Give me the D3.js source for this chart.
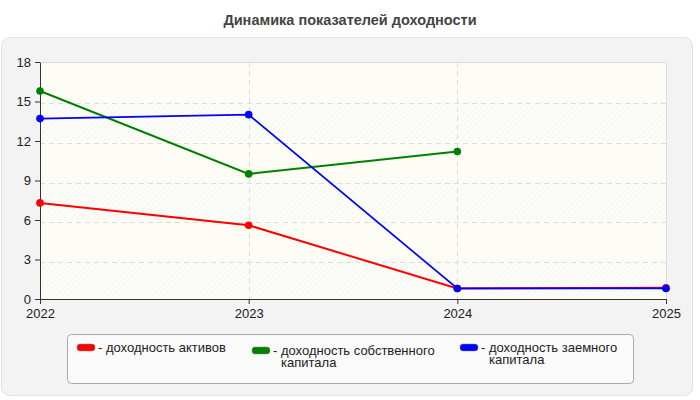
<!DOCTYPE html>
<html>
<head>
<meta charset="utf-8">
<script src="https://cdn.jsdelivr.net/npm/d3@7"></script>
<style>
  body { margin: 0; background: #fff; }
  text { font-family: Arial, "Liberation Sans", sans-serif; }
</style>
</head>
<body>
<div id="chart"></div>
<script>
// Chart data
const years = [2022, 2023, 2024, 2025];
const yTicks = [0, 3, 6, 9, 12, 15, 18];
const seriesColors = ["#ff0000", "#008000", "#0000ff"];
const assetsReturn = [7.3, 5.6, 0.8, 0.85];
const equityReturn = [15.8, 9.5, 11.2, null];
const debtReturn = [13.7, 14.0, 0.8, 0.8];
const legendLines = [["доходность активов"], ["доходность собственного", "капитала"], ["доходность заемного", "капитала"]];

const W = 700, H = 400;
const margin = { top: 62, right: 34, bottom: 101, left: 40 };
const width = W - margin.left - margin.right;
const height = H - margin.top - margin.bottom;

const root = d3.select("#chart").append("svg")
  .attr("width", W)
  .attr("height", H);

// hatch pattern
const defs = root.append("defs");
const pat = defs.append("pattern")
  .attr("id", "hatch")
  .attr("patternUnits", "userSpaceOnUse")
  .attr("width", 4).attr("height", 4)
  .attr("patternTransform", "rotate(45)");
pat.append("rect").attr("width", 4).attr("height", 4).attr("fill", "#fdfdf8");
pat.append("line").attr("x1", 0).attr("y1", 0).attr("x2", 0).attr("y2", 4)
  .attr("stroke", "#ebebeb").attr("stroke-width", 1);

// outer panel
root.append("rect")
  .attr("x", 1.5).attr("y", 37.5)
  .attr("width", 691).attr("height", 358)
  .attr("rx", 8)
  .attr("fill", "#f3f3f3")
  .attr("stroke", "#e2e2e2");

// title
root.append("text")
  .attr("x", W / 2).attr("y", 25)
  .attr("text-anchor", "middle")
  .attr("font-size", 14.5)
  .attr("font-weight", "bold")
  .attr("fill", "#444")
  .text("Динамика показателей доходности");

const svg = root.append("g")
  .attr("transform", "translate(" + margin.left + "," + margin.top + ")");

const x = d3.scalePoint().domain(years).range([0, width]);
const y = d3.scaleLinear().domain([0, 18]).range([height, 0]);

// plot background
svg.append("rect")
  .attr("width", width).attr("height", height)
  .attr("fill", "#fdfdf6");
// alternating hatched bands
yTicks.slice(0, -1).forEach((t, i) => {
  if (i % 2 === 0) {
    svg.append("rect")
      .attr("x", 0).attr("y", y(t + 3))
      .attr("width", width).attr("height", y(t) - y(t + 3))
      .attr("fill", "url(#hatch)");
  }
});

// border top/right
svg.append("path")
  .attr("d", "M0,0.5H" + (width + 0.5) + "V" + height)
  .attr("fill", "none")
  .attr("stroke", "#dcdcdc");

// grid
svg.append("g")
  .selectAll("line")
  .data(yTicks.slice(1, -1))
  .enter().append("line")
  .attr("x1", 0).attr("x2", width)
  .attr("y1", d => Math.round(y(d)) + 2.5).attr("y2", d => Math.round(y(d)) + 2.5)
  .attr("stroke", "#dddddd")
  .attr("stroke-dasharray", "5,4");
svg.append("g")
  .selectAll("line")
  .data(years.slice(1, -1))
  .enter().append("line")
  .attr("x1", d => Math.round(x(d)) + 0.5).attr("x2", d => Math.round(x(d)) + 0.5)
  .attr("y1", 0).attr("y2", height)
  .attr("stroke", "#dddddd")
  .attr("stroke-dasharray", "5,4");

// axes
const xAxis = svg.append("g")
  .attr("transform", "translate(0," + height + ")")
  .call(d3.axisBottom(x).tickSize(5).tickSizeOuter(0));
const yAxis = svg.append("g")
  .call(d3.axisLeft(y).tickValues(yTicks).tickSize(5).tickSizeOuter(0));
[xAxis, yAxis].forEach(a => {
  a.select(".domain").attr("stroke", "#333");
  a.selectAll(".tick line").attr("stroke", "#333");
  a.selectAll("text").attr("font-size", 13).attr("fill", "#222")
    .attr("font-family", "Arial, 'Liberation Sans', sans-serif");
});
xAxis.selectAll("text").attr("dy", "0.85em");
yAxis.selectAll("text").attr("x", -9);

// lines and points, one series after another
const allSeries = [assetsReturn, equityReturn, debtReturn];
const line = d3.line()
  .defined(d => d != null)
  .x((d, i) => x(years[i]))
  .y(d => y(d));

allSeries.forEach((vals, k) => {
  svg.append("path")
    .datum(vals)
    .attr("fill", "none")
    .attr("stroke", seriesColors[k])
    .attr("stroke-width", k === 2 ? 1.7 : 2)
    .attr("d", line);
  svg.append("g")
    .selectAll("circle")
    .data(vals.map((v, i) => ({ v, i })).filter(d => d.v != null))
    .enter().append("circle")
    .attr("cx", d => x(years[d.i]))
    .attr("cy", d => y(d.v))
    .attr("r", 3.8)
    .attr("fill", seriesColors[k]);
});

// legend
const legend = root.append("g");
legend.append("rect")
  .attr("x", 67.5).attr("y", 334.5)
  .attr("width", 566).attr("height", 49)
  .attr("rx", 4)
  .attr("fill", "#fafafa")
  .attr("stroke", "#aaaaaa");

const legendX = [77, 252, 460];
const legendY = [344, 347, 344];
legendLines.forEach((lines, k) => {
  legend.append("rect")
    .attr("x", legendX[k]).attr("y", legendY[k])
    .attr("width", 18).attr("height", 7)
    .attr("rx", 3)
    .attr("fill", seriesColors[k])
    .attr("stroke", "#888").attr("stroke-width", 0.5);
  lines.forEach((s, j) => {
    legend.append("text")
      .attr("x", legendX[k] + (j === 0 ? 21 : 29))
      .attr("y", legendY[k] + 8 + j * 12)
      .attr("font-size", 13)
      .attr("fill", "#222")
      .text((j === 0 ? "- " : "") + s);
  });
});
</script>
</body>
</html>
